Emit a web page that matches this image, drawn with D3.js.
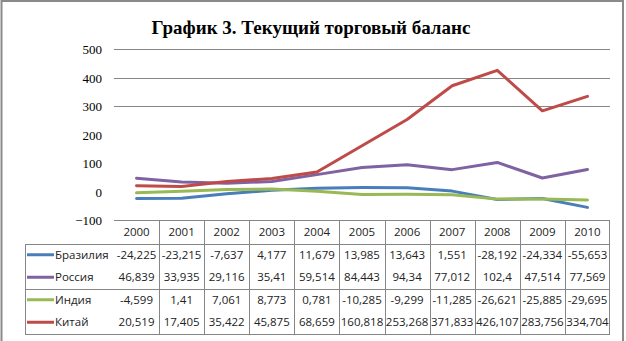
<!DOCTYPE html>
<html>
<head>
<meta charset="utf-8">
<script src="https://cdn.jsdelivr.net/npm/d3@7"></script>
<style>
  html, body { margin: 0; padding: 0; background: #fff; }
  svg { display: block; }
</style>
</head>
<body>
<svg id="chart" width="626" height="341"></svg>
<script>
// Current trade balance, BRIC countries, 2000–2010
const years = ["2000","2001","2002","2003","2004","2005","2006","2007","2008","2009","2010"];
const seriesNames = ["Бразилия", "Россия", "Индия", "Китай"];
const brazil = [-24.225, -23.215, -7.637, 4.177, 11.679, 13.985, 13.643, 1.551, -28.192, -24.334, -55.653];
const russia = [46.839, 33.935, 29.116, 35.41, 59.514, 84.443, 94.34, 77.012, 102.4, 47.514, 77.569];
const india  = [-4.599, 1.41, 7.061, 8.773, 0.781, -10.285, -9.299, -11.285, -26.621, -25.885, -29.695];
const china  = [20.519, 17.405, 35.422, 45.875, 68.659, 160.818, 253.268, 371.833, 426.107, 283.756, 334.704];
const yTicks = [500, 400, 300, 200, 100, 0, -100];
const gridTicks = [500, 400, 300];
const colors = ["#4A7EBB", "#7F62A1", "#98B954", "#BE4B48"];
const title = "График 3. Текущий торговый баланс";

const series = [brazil, russia, india, china];
const svg = d3.select("#chart");

// outer frame
svg.append("rect").attr("x", 1.5).attr("y", 1).attr("width", 621.5).attr("height", 345)
  .attr("fill", "none").attr("stroke", "#8a8a8a").attr("stroke-width", 2);

svg.append("text")
  .attr("x", 311).attr("y", 34)
  .attr("text-anchor", "middle")
  .attr("font-family", "Liberation Serif, serif")
  .attr("font-weight", "bold")
  .attr("font-size", 19)
  .attr("fill", "#000")
  .text(title);

const x = d3.scaleBand().domain(years).range([114, 610]);
const y = d3.scaleLinear().domain([-100, 500]).range([220, 49.3]);

// horizontal gridlines
svg.append("g").selectAll("line").data(gridTicks).join("line")
  .attr("x1", 114).attr("x2", 610)
  .attr("y1", d => Math.round(y(d)) + 0.5).attr("y2", d => Math.round(y(d)) + 0.5)
  .attr("stroke", "#868686").attr("stroke-width", 1);

// y axis labels
const yAxis = d3.axisLeft(y).tickValues(yTicks).tickSize(0).tickPadding(0).tickFormat(d3.format("d"));
const ya = svg.append("g").attr("transform", "translate(102,0)").call(yAxis);
ya.select(".domain").remove();
ya.selectAll("text")
  .attr("font-family", "Liberation Serif, serif")
  .attr("font-size", 13)
  .attr("fill", "#000")
  .attr("dy", "0.35em");

// lines
const line = d3.line().x((d, i) => x(years[i]) + x.bandwidth() / 2).y(d => y(d));
svg.append("g").selectAll("path").data(series).join("path")
  .attr("d", d => line(d))
  .attr("fill", "none")
  .attr("stroke", (d, i) => colors[i])
  .attr("stroke-width", 3)
  .attr("stroke-linejoin", "round")
  .attr("stroke-linecap", "round");

// data table under the chart
const tableTop = 220, headerBottom = 243.5, rowH = 22.5, tableBottom = headerBottom + rowH * 4;
const grid = svg.append("g").attr("stroke", "#868686").attr("stroke-width", 1);
grid.append("line").attr("x1", 114).attr("x2", 610).attr("y1", tableTop + 0.5).attr("y2", tableTop + 0.5);
[headerBottom, headerBottom + rowH * 2, tableBottom].forEach(v => {
  grid.append("line").attr("x1", 25).attr("x2", 610).attr("y1", Math.round(v) + 0.5).attr("y2", Math.round(v) + 0.5);
});
grid.append("line").attr("x1", 25.5).attr("x2", 25.5).attr("y1", Math.round(headerBottom)).attr("y2", Math.round(tableBottom) + 1);
years.slice(1).forEach(yr => {
  const xx = Math.round(x(yr)) + 0.5;
  grid.append("line").attr("x1", xx).attr("x2", xx).attr("y1", tableTop).attr("y2", Math.round(tableBottom) + 1);
});
grid.append("line").attr("x1", 609.5).attr("x2", 609.5).attr("y1", tableTop).attr("y2", Math.round(tableBottom) + 1);

const fontTable = "Open Sans, sans-serif";
svg.append("g").selectAll("text").data(years).join("text")
  .attr("x", d => x(d) + x.bandwidth() / 2)
  .attr("y", tableTop + 12)
  .attr("dy", "0.35em")
  .attr("text-anchor", "middle")
  .attr("font-family", fontTable).attr("font-size", 11.5).attr("fill", "#222")
  .text(d => d);

const fmt = v => String(v).replace(".", ",");
series.forEach((vals, si) => {
  const cy = headerBottom + rowH * si + rowH / 2;
  svg.append("line").attr("x1", 27).attr("x2", 54).attr("y1", cy).attr("y2", cy)
    .attr("stroke", colors[si]).attr("stroke-width", 3);
  svg.append("text").attr("x", 55).attr("y", cy).attr("dy", "0.35em")
    .attr("font-family", fontTable).attr("font-size", 11.5).attr("fill", "#222")
    .text(seriesNames[si]);
  svg.append("g").selectAll("text").data(vals).join("text")
    .attr("x", (d, i) => x(years[i]) + x.bandwidth() / 2)
    .attr("y", cy).attr("dy", "0.35em")
    .attr("text-anchor", "middle")
    .attr("font-family", fontTable).attr("font-size", 11.5).attr("fill", "#222")
    .text(d => fmt(d));
});
</script>
</body>
</html>
